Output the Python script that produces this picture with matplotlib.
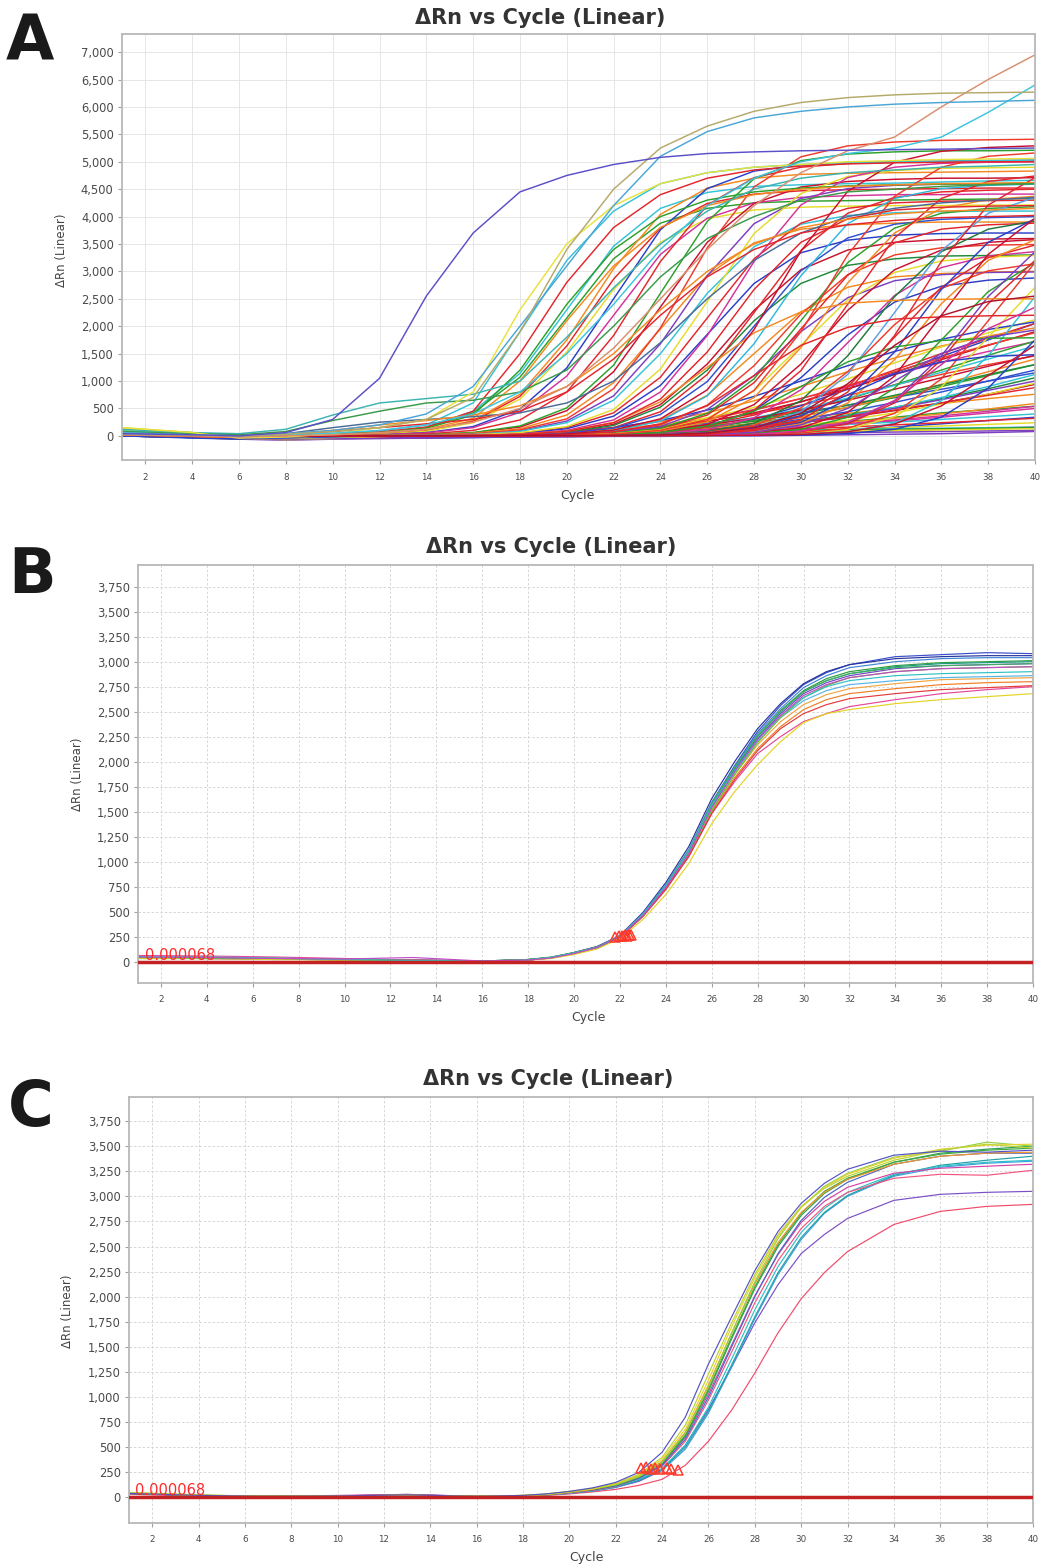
import matplotlib
matplotlib.use("Agg")
import matplotlib.pyplot as plt
from matplotlib import font_manager
from matplotlib.ticker import FuncFormatter

# ---------------------------------------------------------------- data
# Panel A: cycles at which each curve's ΔRn was read
cycles_A = [1, 4, 6, 8, 10, 12, 14, 16, 18, 20, 22, 24, 26, 28, 30, 32, 34, 36, 38, 40]

A_low = [
    ("#2b3fc6", [20, -20, -50, -60, -40, -30, -40, -30, -20, -10, 0, 10, 20, 40, 70, 110, 160, 220, 280, 340]),
    ("#e3262b", [40, 10, -20, -40, -30, -20, -20, -10, 0, 10, 20, 30, 40, 50, 60, 80, 100, 120, 140, 160]),
    ("#2ca02c", [60, 20, 0, -20, 0, 10, 20, 30, 40, 50, 60, 80, 110, 150, 200, 260, 340, 420, 480, 540]),
    ("#7b3fc0", [0, -30, -60, -80, -60, -50, -40, -30, -20, -20, -10, -10, 0, 0, 10, 20, 30, 40, 60, 80]),
    ("#e4dc2a", [150, 60, -40, -70, -50, -30, -20, 0, 10, 20, 30, 40, 60, 80, 100, 120, 150, 180, 210, 240]),
    ("#f4891f", [40, 0, -30, -40, -20, 0, 20, 40, 60, 80, 110, 150, 200, 260, 330, 410, 500, 590, 680, 760]),
    ("#d4319a", [80, 30, 0, -20, -10, 0, 10, 20, 30, 40, 50, 70, 90, 120, 160, 210, 270, 340, 420, 500]),
    ("#33c3d6", [100, 50, 20, 0, 10, 20, 30, 40, 50, 60, 70, 80, 90, 100, 110, 120, 130, 140, 150, 160]),
    ("#b0102a", [20, -20, -40, -50, -40, -30, -20, -10, 0, 10, 30, 60, 100, 160, 240, 340, 460, 600, 760, 940]),
    ("#3050d0", [30, 0, -20, -30, -20, -10, 0, 20, 40, 70, 110, 160, 230, 320, 430, 560, 700, 850, 1000, 1150]),
    ("#1f8a3a", [50, 10, -10, -20, -10, 0, 10, 20, 30, 40, 60, 90, 130, 190, 270, 380, 520, 680, 860, 1060]),
    ("#ef3b2c", [10, -10, -30, -40, -30, -20, -10, 0, 20, 50, 100, 170, 270, 400, 560, 740, 930, 1120, 1300, 1460]),
    ("#2ca02c", [60, 20, 0, -10, 0, 10, 20, 30, 40, 50, 60, 70, 80, 90, 100, 110, 120, 130, 140, 150]),
    ("#e3262b", [30, 0, -20, -30, -20, -10, 0, 10, 20, 30, 40, 60, 80, 100, 130, 160, 200, 240, 280, 320]),
    ("#7b3fc0", [10, -20, -40, -60, -50, -40, -30, -20, -10, 0, 10, 20, 30, 40, 50, 60, 70, 80, 90, 100]),
    ("#f4891f", [50, 10, -20, -30, -20, -10, 0, 10, 20, 30, 50, 70, 100, 140, 190, 250, 320, 400, 490, 590]),
    ("#33c3d6", [100, 40, 10, 0, 10, 20, 30, 40, 50, 60, 70, 90, 110, 140, 170, 210, 250, 300, 350, 400]),
    ("#e4dc2a", [140, 60, -30, -50, -30, -10, 0, 10, 20, 30, 40, 50, 60, 70, 80, 90, 100, 110, 120, 130]),
]

A_slow = [
    ("#2b3fc6", [30, 0, -20, -10, 0, 0, 0, 0, 5, 10, 15, 40, 120, 300, 550, 850, 1150, 1450, 1750, 2050]),
    ("#e3262b", [40, 10, -10, -10, 0, 0, 0, 5, 10, 20, 40, 90, 200, 380, 620, 900, 1200, 1500, 1780, 2050]),
    ("#2ca02c", [60, 20, 0, -10, 0, 0, 5, 10, 20, 30, 50, 80, 140, 230, 360, 520, 700, 900, 1100, 1300]),
    ("#f4891f", [20, -10, -30, -20, 0, 0, 0, 5, 10, 20, 40, 70, 130, 220, 350, 520, 720, 940, 1170, 1400]),
    ("#d4319a", [50, 20, 0, -10, 0, 5, 10, 20, 40, 70, 120, 200, 320, 480, 680, 900, 1120, 1340, 1540, 1720]),
    ("#33c3d6", [90, 40, 10, 0, 0, 0, 5, 10, 15, 25, 40, 60, 100, 160, 250, 370, 520, 700, 900, 1120]),
    ("#e4dc2a", [130, 50, -30, -20, 0, 0, 0, 5, 10, 15, 25, 40, 70, 120, 190, 290, 420, 580, 760, 960]),
    ("#c8102e", [30, 0, -20, -10, 0, 0, 5, 10, 20, 40, 80, 150, 260, 420, 620, 860, 1120, 1390, 1650, 1900]),
    ("#7b3fc0", [10, -20, -40, -30, -10, 0, 0, 5, 10, 20, 30, 50, 90, 150, 240, 360, 500, 660, 830, 1000]),
    ("#1f8a3a", [40, 10, -10, -10, 0, 0, 5, 10, 20, 35, 60, 100, 170, 270, 400, 560, 740, 930, 1120, 1300]),
    ("#ef3b2c", [20, -10, -30, -20, 0, 0, 5, 10, 25, 50, 100, 180, 300, 470, 680, 920, 1170, 1420, 1660, 1880]),
    ("#3050d0", [0, -30, -50, -40, -20, 0, 0, 5, 10, 20, 35, 60, 110, 190, 300, 440, 610, 800, 1000, 1200]),
    ("#f4891f", [60, 20, 0, -10, 0, 5, 10, 20, 40, 80, 150, 260, 420, 640, 900, 1170, 1420, 1640, 1820, 1970]),
    ("#e3262b", [30, 0, -20, -10, 0, 0, 5, 10, 20, 30, 50, 70, 110, 170, 250, 350, 470, 600, 740, 880]),
    ("#2ca02c", [50, 10, -10, -10, 0, 0, 5, 10, 20, 30, 50, 90, 160, 280, 450, 670, 930, 1200, 1470, 1730]),
    ("#e4dc2a", [110, 40, -30, -20, 0, 5, 10, 20, 40, 70, 120, 200, 330, 520, 760, 1040, 1330, 1620, 1880, 2120]),
    ("#d4319a", [40, 10, -10, -10, 0, 0, 5, 10, 20, 30, 45, 65, 90, 125, 170, 225, 290, 365, 450, 540]),
    ("#33c3d6", [80, 30, 10, 0, 0, 5, 10, 20, 30, 50, 80, 130, 210, 330, 490, 690, 920, 1160, 1400, 1640]),
    ("#c8102e", [20, -10, -30, -20, 0, 0, 5, 10, 20, 40, 70, 120, 200, 320, 470, 650, 850, 1060, 1270, 1470]),
    ("#2b3fc6", [30, 0, -20, -10, 0, 5, 10, 20, 40, 80, 150, 280, 470, 720, 1000, 1280, 1540, 1760, 1940, 2080]),
]

A_mass = [
    ("#33c3d6", [60, 20, 0, 10, 20, 60, 160, 450, 1140, 2300, 3460, 4150, 4440, 4550, 4580, 4600, 4610, 4630, 4650, 4660]),
    ("#2ca02c", [40, 0, -30, 5, 17, 52, 146, 420, 1070, 2150, 3230, 3880, 4150, 4250, 4280, 4290, 4300, 4310, 4320, 4330]),
    ("#f4891f", [80, 30, 10, 5, 11, 32, 96, 280, 760, 1750, 3050, 4040, 4520, 4700, 4770, 4790, 4800, 4810, 4820, 4830]),
    ("#e3262b", [20, -10, -40, 4, 10, 30, 90, 260, 720, 1640, 2860, 3790, 4240, 4410, 4470, 4490, 4500, 4510, 4520, 4520]),
    ("#e4dc2a", [130, 50, -50, 4, 9, 28, 84, 240, 670, 1530, 2670, 3530, 3960, 4120, 4170, 4190, 4200, 4200, 4210, 4210]),
    ("#2b3fc6", [30, 0, -20, 3, 6, 20, 60, 170, 490, 1240, 2500, 3760, 4510, 4830, 4940, 4980, 5000, 5010, 5020, 5030]),
    ("#d4319a", [50, 10, -10, 3, 6, 18, 53, 150, 430, 1090, 2200, 3310, 3970, 4250, 4350, 4380, 4400, 4400, 4410, 4410]),
    ("#e3262b", [40, 20, 0, 2, 5, 11, 34, 100, 290, 800, 1830, 3180, 4210, 4710, 4900, 4970, 4990, 5000, 5010, 5020]),
    ("#c8102e", [10, -20, -40, 1, 3, 6, 19, 56, 160, 460, 1170, 2350, 3530, 4240, 4540, 4640, 4680, 4700, 4700, 4710]),
    ("#2ca02c", [70, 30, 10, 1, 3, 7, 21, 62, 180, 510, 1290, 2600, 3910, 4690, 5020, 5140, 5180, 5200, 5200, 5210]),
    ("#f4891f", [0, -30, -60, 1, 2, 5, 16, 47, 130, 380, 970, 1950, 2930, 3520, 3770, 3850, 3880, 3900, 3900, 3900]),
    ("#7b3fc0", [60, 20, 0, 1, 2, 4, 10, 31, 92, 270, 730, 1680, 2920, 3870, 4330, 4510, 4570, 4590, 4600, 4600]),
    ("#ef3b2c", [30, 0, -20, 1, 2, 5, 12, 36, 110, 310, 860, 1970, 3430, 4540, 5090, 5290, 5360, 5390, 5400, 5410]),
    ("#33c3d6", [90, 40, 20, 1, 2, 4, 9, 27, 82, 240, 650, 1500, 2600, 3450, 3860, 4020, 4070, 4090, 4100, 4100]),
    ("#e3262b", [20, -10, -30, 0, 1, 3, 6, 17, 52, 150, 420, 1070, 2150, 3230, 3880, 4150, 4250, 4280, 4290, 4300]),
    ("#2b3fc6", [0, -20, -50, 0, 1, 2, 5, 15, 44, 130, 360, 920, 1850, 2780, 3340, 3570, 3660, 3690, 3700, 3700]),
    ("#e4dc2a", [110, 40, -30, 0, 1, 3, 6, 20, 59, 170, 480, 1220, 2450, 3690, 4420, 4730, 4840, 4880, 4890, 4900]),
    ("#c8102e", [40, 10, -10, 0, 1, 2, 4, 8, 24, 72, 210, 570, 1310, 2290, 3030, 3390, 3530, 3580, 3590, 3600]),
    ("#d4319a", [60, 30, 0, 0, 1, 2, 5, 11, 34, 100, 290, 800, 1830, 3180, 4210, 4710, 4900, 4970, 4990, 5000]),
    ("#1f8a3a", [20, -10, -40, 0, 1, 2, 3, 7, 22, 66, 190, 525, 1200, 2100, 2780, 3110, 3230, 3280, 3290, 3300]),
    ("#e3262b", [30, 0, -20, 0, 0, 1, 3, 6, 18, 54, 150, 440, 1120, 2250, 3380, 4060, 4350, 4450, 4480, 4500]),
    ("#f4891f", [50, 20, 10, 0, 0, 1, 2, 4, 12, 36, 100, 290, 740, 1500, 2260, 2710, 2900, 2960, 2990, 3000]),
    ("#3050d0", [0, -40, -60, 0, 0, 1, 3, 5, 16, 48, 140, 390, 990, 2000, 3010, 3610, 3860, 3950, 3980, 4000]),
    ("#ef3b2c", [40, 10, -10, 0, 0, 1, 2, 4, 8, 23, 70, 200, 560, 1280, 2220, 2940, 3300, 3430, 3480, 3490]),
    ("#2eb8e0", [80, 30, 10, 0, 0, 1, 3, 5, 10, 31, 92, 270, 730, 1680, 2920, 3870, 4330, 4510, 4570, 4590]),
    ("#7b3fc0", [10, -20, -40, 0, 0, 1, 2, 4, 7, 20, 60, 170, 480, 1100, 1900, 2520, 2830, 2940, 2980, 2990]),
    ("#e3262b", [20, -10, -30, 0, 0, 0, 1, 3, 5, 16, 47, 130, 380, 970, 1950, 2930, 3520, 3770, 3850, 3880]),
    ("#2ca02c", [60, 20, 0, 0, 0, 1, 2, 3, 6, 17, 50, 140, 410, 1040, 2100, 3160, 3790, 4060, 4150, 4180]),
    ("#e4dc2a", [120, 50, -40, -20, 0, 1, 2, 3, 4, 13, 40, 110, 320, 820, 1650, 2480, 2980, 3190, 3260, 3290]),
    ("#c8102e", [30, 0, -20, 0, 0, 0, 1, 2, 4, 8, 24, 72, 210, 570, 1310, 2290, 3030, 3390, 3530, 3580]),
    ("#f4891f", [70, 30, 10, 0, 0, 1, 2, 3, 5, 10, 29, 88, 255, 700, 1610, 2790, 3700, 4150, 4310, 4370]),
    ("#2b3fc6", [0, -30, -50, 0, 0, 0, 1, 2, 3, 6, 19, 58, 170, 460, 1060, 1840, 2440, 2730, 2840, 2880]),
    ("#e3262b", [40, 10, -10, 0, 0, 0, 1, 2, 4, 6, 19, 58, 160, 470, 1190, 2400, 3610, 4330, 4640, 4740]),
    ("#d4319a", [50, 20, 0, 0, 0, 0, 1, 2, 3, 5, 14, 41, 120, 330, 840, 1700, 2560, 3070, 3280, 3360]),
    ("#1f7a3a", [20, -10, -30, 0, 0, 0, 1, 2, 3, 5, 9, 27, 80, 230, 640, 1460, 2540, 3360, 3770, 3920]),
    ("#ef3b2c", [30, 0, -20, 0, 0, 0, 1, 2, 3, 4, 7, 21, 64, 190, 510, 1170, 2030, 2690, 3010, 3140]),
    ("#5aa0e6", [70, 30, 10, 0, 0, 0, 1, 2, 3, 4, 8, 18, 54, 150, 440, 1120, 2250, 3380, 4060, 4350]),
    ("#e3262b", [20, -10, -30, 0, 0, 0, 0, 1, 2, 3, 6, 14, 43, 120, 350, 890, 1800, 2710, 3250, 3480]),
    ("#2b3fc6", [0, -20, -40, 0, 0, 0, 0, 1, 2, 3, 5, 9, 28, 84, 240, 670, 1530, 2670, 3530, 3960]),
    ("#f4891f", [60, 20, 0, 0, 0, 0, 0, 1, 2, 3, 4, 8, 25, 76, 220, 600, 1390, 2410, 3200, 3580]),
    ("#c8102e", [30, 0, -10, 0, 0, 0, 0, 1, 2, 3, 4, 8, 18, 53, 150, 430, 1090, 2200, 3310, 3970]),
    ("#2ca02c", [50, 10, -10, 0, 0, 0, 0, 1, 2, 3, 4, 7, 14, 42, 120, 340, 870, 1750, 2630, 3160]),
    ("#7b3fc0", [10, -20, -40, 0, 0, 0, 0, 1, 2, 3, 4, 6, 9, 27, 80, 230, 640, 1460, 2540, 3360]),
    ("#e3262b", [40, 10, -20, 0, 0, 0, 0, 1, 2, 3, 4, 6, 9, 25, 76, 220, 600, 1390, 2410, 3200]),
    ("#e4dc2a", [100, 40, -30, -10, 0, 0, 0, 1, 2, 3, 4, 6, 8, 14, 43, 120, 350, 890, 1800, 2710]),
    ("#ef3b2c", [20, -10, -30, 0, 0, 0, 0, 1, 2, 3, 4, 6, 8, 17, 50, 140, 410, 1040, 2100, 3160]),
    ("#33c3d6", [80, 30, 10, 0, 0, 0, 0, 1, 2, 3, 4, 6, 8, 9, 27, 80, 230, 640, 1460, 2540]),
    ("#2b3fc6", [0, -30, -50, -20, 0, 0, 0, 1, 2, 3, 4, 6, 8, 10, 14, 42, 120, 340, 870, 1750]),
    ("#e3262b", [30, 0, -20, 0, 0, 1, 2, 3, 9, 26, 75, 220, 550, 1100, 1650, 1980, 2130, 2170, 2190, 2200]),
    ("#2ca02c", [40, 10, -10, 0, 0, 0, 1, 2, 3, 7, 22, 61, 180, 450, 900, 1350, 1620, 1740, 1780, 1790]),
    ("#2b3fc6", [10, -20, -40, 0, 0, 0, 1, 2, 3, 4, 6, 18, 51, 150, 370, 750, 1130, 1350, 1450, 1480]),
    ("#f4891f", [60, 20, 0, 0, 1, 2, 4, 10, 30, 85, 245, 620, 1250, 1880, 2260, 2420, 2470, 2490, 2500, 2500]),
    ("#7b3fc0", [20, -10, -30, 0, 0, 0, 0, 1, 2, 3, 5, 8, 24, 68, 200, 500, 1000, 1500, 1800, 1930]),
    ("#d4319a", [50, 20, 0, 0, 0, 0, 0, 1, 2, 3, 4, 6, 11, 31, 88, 255, 645, 1300, 1955, 2345]),
    ("#c8102e", [30, 0, -20, 0, 0, 0, 0, 1, 2, 3, 4, 6, 8, 10, 26, 75, 216, 546, 1100, 1654]),
    ("#e3262b", [30, 0, -20, 0, 1, 2, 4, 9, 28, 84, 240, 670, 1530, 2670, 3530, 3960, 4120, 4170, 4190, 4200]),
    ("#ef3b2c", [50, 20, 0, 0, 0, 1, 2, 4, 6, 11, 35, 100, 300, 830, 1900, 3300, 4370, 4900, 5100, 5160]),
    ("#e3262b", [20, -10, -30, 0, 0, 0, 1, 2, 3, 5, 7, 11, 34, 100, 290, 800, 1830, 3180, 4210, 4710]),
    ("#c8102e", [40, 10, -10, 0, 0, 1, 2, 5, 12, 36, 106, 310, 840, 1940, 3370, 4460, 4990, 5190, 5260, 5290]),
    ("#b0102a", [30, 0, -20, 0, 0, 0, 1, 2, 3, 4, 7, 17, 52, 150, 410, 950, 1650, 2190, 2450, 2550]),
]

A_early = [
    ("#36c0d8", [90, 40, 10, 20, 40, 90, 200, 600, 1900, 3200, 4100, 4600, 4800, 4900, 4950, 4980, 5000, 5010, 5020, 5030]),
    ("#e3262b", [30, 0, -20, 10, 30, 70, 160, 450, 1500, 2800, 3800, 4400, 4700, 4850, 4920, 4960, 4980, 4990, 5000, 5000]),
    ("#2ca02c", [50, 10, -10, 10, 30, 60, 140, 380, 1200, 2400, 3400, 4000, 4300, 4450, 4520, 4560, 4580, 4590, 4600, 4600]),
    ("#f4891f", [20, -10, -30, 10, 20, 50, 120, 320, 1000, 2100, 3100, 3800, 4200, 4400, 4500, 4550, 4580, 4600, 4610, 4620]),
    ("#4a6a9a", [60, 20, 0, 40, 150, 250, 300, 350, 420, 600, 1000, 1700, 2500, 3200, 3700, 4000, 4150, 4250, 4300, 4350]),
    ("#f4891f", [50, 10, -10, 30, 100, 200, 280, 380, 550, 900, 1500, 2300, 3000, 3500, 3800, 3950, 4050, 4100, 4120, 4150]),
    ("#e3262b", [30, 0, -20, 20, 80, 150, 220, 300, 450, 800, 1400, 2200, 2900, 3400, 3700, 3850, 3930, 3980, 4000, 4020]),
]

A_special = [
    ("#3cb4b0", [120, 60, 40, 120, 380, 600, 680, 760, 1000, 1800, 2700, 3500, 4100, 4500, 4700, 4800, 4850, 4900, 4920, 4950]),
    ("#3a9a4a", [80, 40, 20, 80, 280, 450, 600, 650, 800, 1200, 2000, 2900, 3600, 4000, 4300, 4450, 4500, 4550, 4580, 4600]),
    ("#e8e23c", [150, 60, -40, -20, 40, 150, 300, 800, 2300, 3500, 4200, 4600, 4800, 4900, 4950, 5000, 5020, 5040, 5050, 5060]),
    ("#3cc4e0", [50, 10, 0, 20, 50, 100, 200, 400, 800, 1500, 2400, 3400, 4200, 4700, 5000, 5150, 5250, 5450, 5900, 6400]),
    ("#d98e6e", [20, 0, -20, 0, 20, 60, 120, 250, 500, 900, 1600, 2500, 3400, 4200, 4800, 5200, 5450, 6000, 6500, 6950]),
    ("#4aa6d6", [60, 20, 0, 40, 100, 200, 400, 900, 2000, 3100, 4200, 5100, 5550, 5800, 5920, 6000, 6050, 6080, 6100, 6120]),
    ("#b5a96a", [30, 10, 0, 30, 80, 150, 300, 700, 1900, 3400, 4500, 5250, 5650, 5920, 6080, 6170, 6220, 6250, 6260, 6270]),
    ("#5b4fc9", [40, 20, 0, 60, 300, 1050, 2550, 3700, 4450, 4750, 4950, 5080, 5150, 5180, 5200, 5210, 5220, 5230, 5240, 5250]),
]

yticks_A = list(range(0, 7001, 500))

# Panels B and C: cycles at which each curve's ΔRn was read
cycles_BC = [1, 4, 7, 10, 13, 16, 18, 19, 20, 21, 22, 23, 24, 25, 26, 27, 28, 29, 30, 31, 32, 34, 36, 38, 40]

B_curves = [
    ("#3a4fc8", [40, 35, 25, 15, 10, 5, 20, 40, 85, 140, 250, 470, 760, 1110, 1590, 1960, 2300, 2560, 2770, 2890, 2970, 3050, 3070, 3090, 3080]),
    ("#27349e", [50, 40, 30, 20, 15, 5, 15, 40, 90, 150, 260, 490, 790, 1150, 1630, 2000, 2330, 2580, 2780, 2900, 2970, 3030, 3050, 3060, 3060]),
    ("#2f9e3a", [30, 30, 25, 15, 5, 0, 20, 45, 90, 145, 250, 470, 750, 1100, 1570, 1930, 2260, 2510, 2710, 2830, 2900, 2960, 2990, 3000, 3010]),
    ("#1f9a84", [45, 40, 30, 20, 10, 5, 15, 35, 80, 135, 240, 460, 740, 1090, 1560, 1920, 2250, 2500, 2700, 2810, 2880, 2950, 2980, 2990, 3000]),
    ("#6f45c2", [35, 30, 20, 25, 15, 5, 15, 40, 85, 140, 245, 465, 745, 1090, 1550, 1910, 2230, 2480, 2680, 2790, 2860, 2930, 2960, 2970, 2980]),
    ("#3f86d4", [40, 35, 30, 20, 10, 5, 20, 40, 85, 145, 255, 480, 770, 1120, 1590, 1950, 2280, 2530, 2740, 2860, 2940, 3000, 3030, 3040, 3040]),
    ("#f07f22", [50, 45, 35, 20, 10, 5, 15, 35, 80, 140, 245, 455, 730, 1060, 1500, 1840, 2130, 2350, 2520, 2620, 2680, 2730, 2770, 2790, 2800]),
    ("#f2a542", [35, 30, 25, 15, 10, 0, 15, 35, 80, 140, 250, 465, 740, 1080, 1520, 1870, 2170, 2400, 2570, 2670, 2730, 2780, 2820, 2830, 2840]),
    ("#55b4e6", [45, 40, 30, 20, 10, 5, 15, 40, 85, 140, 245, 470, 750, 1090, 1540, 1890, 2200, 2440, 2610, 2710, 2770, 2810, 2840, 2850, 2860]),
    ("#66c23c", [40, 40, 30, 20, 15, 5, 20, 40, 80, 135, 240, 450, 720, 1060, 1510, 1870, 2190, 2440, 2640, 2760, 2840, 2900, 2930, 2940, 2950]),
    ("#e4479a", [60, 55, 45, 30, 15, 5, 15, 35, 80, 135, 240, 450, 720, 1050, 1480, 1800, 2080, 2250, 2400, 2480, 2550, 2620, 2680, 2720, 2750]),
    ("#e23b3b", [45, 40, 30, 20, 10, 5, 15, 35, 80, 140, 245, 455, 725, 1050, 1480, 1820, 2110, 2330, 2480, 2570, 2630, 2680, 2720, 2740, 2760]),
    ("#e3d323", [30, 30, 20, 15, 5, 0, 15, 30, 70, 125, 230, 420, 670, 980, 1380, 1700, 1970, 2200, 2390, 2480, 2520, 2580, 2620, 2650, 2680]),
    ("#3fb063", [40, 35, 30, 20, 10, 5, 20, 40, 85, 145, 250, 470, 760, 1110, 1580, 1940, 2260, 2500, 2700, 2810, 2880, 2940, 2960, 2970, 2980]),
    ("#2fc2c4", [50, 45, 35, 20, 10, 5, 15, 40, 85, 140, 250, 470, 755, 1100, 1560, 1910, 2220, 2460, 2640, 2750, 2810, 2860, 2880, 2890, 2900]),
    ("#c24ac4", [45, 40, 30, 25, 40, 5, 15, 35, 80, 140, 245, 460, 740, 1080, 1540, 1900, 2220, 2460, 2660, 2770, 2840, 2900, 2930, 2940, 2950]),
]
B_ct_cycles = [21.8, 21.95, 22.1, 22.2, 22.3, 22.4, 22.5]
B_ct_drn = [250, 260, 255, 265, 260, 270, 262]

C_curves = [
    ("#f04a6a", [30, 15, 5, 10, 20, 5, 10, 20, 35, 55, 80, 120, 180, 320, 560, 870, 1240, 1640, 1980, 2240, 2450, 2720, 2850, 2900, 2920]),
    ("#7b4fc6", [35, 20, 10, 15, 30, 10, 15, 25, 40, 65, 100, 160, 270, 520, 880, 1300, 1740, 2120, 2430, 2620, 2780, 2960, 3020, 3040, 3050]),
    ("#3f9fe2", [40, 20, 10, 15, 20, 10, 15, 25, 40, 65, 100, 170, 270, 480, 840, 1300, 1780, 2220, 2570, 2830, 3000, 3200, 3290, 3330, 3350]),
    ("#1f9fa5", [40, 20, 10, 15, 20, 10, 15, 25, 45, 65, 105, 170, 280, 500, 860, 1320, 1800, 2240, 2590, 2840, 3010, 3210, 3310, 3360, 3400]),
    ("#2ec0c8", [40, 20, 10, 15, 20, 10, 15, 25, 45, 70, 110, 180, 290, 520, 900, 1380, 1870, 2300, 2640, 2880, 3040, 3220, 3300, 3340, 3360]),
    ("#f2557f", [35, 20, 10, 15, 25, 10, 15, 25, 45, 70, 110, 190, 310, 560, 970, 1450, 1940, 2360, 2680, 2900, 3040, 3180, 3220, 3210, 3260]),
    ("#d444a4", [40, 20, 10, 20, 30, 10, 15, 30, 50, 75, 120, 200, 330, 600, 1030, 1520, 2010, 2420, 2740, 2950, 3090, 3230, 3280, 3300, 3320]),
    ("#4a66c6", [40, 20, 10, 15, 25, 10, 15, 30, 50, 75, 115, 190, 320, 580, 1000, 1500, 2000, 2430, 2760, 2990, 3140, 3320, 3400, 3430, 3430]),
    ("#2f9f55", [40, 20, 10, 15, 20, 10, 15, 30, 50, 80, 120, 200, 340, 610, 1060, 1580, 2080, 2500, 2810, 3030, 3170, 3340, 3430, 3470, 3500]),
    ("#3caa3c", [40, 20, 10, 15, 20, 10, 15, 30, 50, 80, 130, 210, 350, 620, 1080, 1600, 2100, 2520, 2830, 3050, 3180, 3340, 3420, 3460, 3480]),
    ("#f29428", [45, 20, 10, 15, 25, 10, 15, 30, 50, 80, 130, 210, 360, 650, 1120, 1640, 2130, 2540, 2840, 3040, 3170, 3320, 3400, 3430, 3440]),
    ("#92d046", [45, 25, 10, 15, 20, 10, 20, 30, 55, 85, 125, 205, 350, 640, 1100, 1640, 2150, 2580, 2890, 3100, 3230, 3390, 3450, 3540, 3500]),
    ("#e4d232", [45, 20, 10, 15, 20, 10, 20, 30, 55, 85, 135, 220, 380, 680, 1170, 1700, 2190, 2600, 2890, 3090, 3220, 3380, 3470, 3510, 3520]),
    ("#bcd234", [50, 25, 10, 15, 20, 10, 20, 35, 60, 90, 140, 230, 400, 720, 1230, 1740, 2220, 2620, 2900, 3080, 3200, 3360, 3460, 3520, 3480]),
    ("#5352c4", [40, 20, 10, 15, 25, 10, 20, 35, 60, 95, 150, 250, 450, 800, 1330, 1800, 2260, 2650, 2930, 3130, 3270, 3410, 3450, 3440, 3460]),
]
C_ct_cycles = [23.1, 23.3, 23.5, 23.7, 23.9, 24.2, 24.4, 24.7]
C_ct_drn = [290, 300, 285, 295, 280, 290, 285, 275]

yticks_BC = list(range(0, 3751, 250))
threshold = 0.000068
title_text = "ΔRn vs Cycle (Linear)"

# ---------------------------------------------------------------- figure
W, H = 1041, 1565
plt.rcParams["font.family"] = ["DejaVu Sans"]
fig = plt.figure(figsize=(W / 100, H / 100), dpi=100)

installed = {f.name for f in font_manager.fontManager.ttflist}
if "Liberation Sans Narrow" in installed:
    thr_family, thr_size = ["Liberation Sans Narrow", "DejaVu Sans"], 12.5
else:
    thr_family, thr_size = ["DejaVu Sans"], 10.5


def fr(left, top, right, bottom):
    return [left / W, 1 - bottom / H, (right - left) / W, (bottom - top) / H]


def style(ax, ylim, yticks, dashed):
    ax.set_xlim(1, 40)
    ax.set_ylim(*ylim)
    ax.set_xticks(range(2, 41, 2))
    ax.set_yticks(yticks)
    ax.yaxis.set_major_formatter(FuncFormatter(lambda v, p: f"{int(round(v)):,}"))
    if dashed:
        ax.grid(True, color="#d6d6d6", lw=0.7, ls=(0, (2.5, 2)))
    else:
        ax.grid(True, color="#e6e6e6", lw=0.7, ls="-")
    ax.set_axisbelow(True)
    for s in ax.spines.values():
        s.set_color("#b8b8b8")
        s.set_linewidth(1.3)
    ax.tick_params(axis="both", colors="#a0a0a0", length=3, width=0.8,
                   labelcolor="#4a4a4a")
    ax.tick_params(axis="y", labelsize=8.3, pad=3)
    ax.tick_params(axis="x", labelsize=6.3, pad=6)


def draw(ax, cycles, groups, lw):
    for group in groups:
        for color, vals in group:
            n = min(len(cycles), len(vals))
            ax.plot(cycles[:n], vals[:n], color=color, lw=lw,
                    solid_joinstyle="round", solid_capstyle="round")


# Panel A
axA = fig.add_axes(fr(122, 34, 1035, 460))
style(axA, (-440, 7330), yticks_A, dashed=False)
draw(axA, cycles_A, [A_low, A_slow, A_mass, A_early, A_special], 1.05)

# Panel B
axB = fig.add_axes(fr(138, 565, 1033, 983))
style(axB, (-215, 3967), yticks_BC, dashed=True)
draw(axB, cycles_BC, [B_curves], 0.85)
axB.axhline(threshold, color="#c42222", lw=2.5, zorder=5)
axB.plot(B_ct_cycles, B_ct_drn, ls="none", marker="^", ms=6.5, mfc="none",
         mec="#ff3a2a", mew=1.1, zorder=6)
axB.text(1.3, threshold - 10, f"{threshold:.6f}", color="#ff2a2a", fontsize=thr_size,
         family=thr_family, va="bottom", ha="left", zorder=7)

# Panel C
axC = fig.add_axes(fr(129, 1097, 1033, 1523))
style(axC, (-255, 3990), yticks_BC, dashed=True)
draw(axC, cycles_BC, [C_curves], 0.85)
axC.axhline(threshold, color="#c42222", lw=2.5, zorder=5)
axC.plot(C_ct_cycles, C_ct_drn, ls="none", marker="^", ms=6.5, mfc="none",
         mec="#ff3a2a", mew=1.1, zorder=6)
axC.text(1.25, threshold - 10, f"{threshold:.6f}", color="#ff2a2a", fontsize=thr_size,
         family=thr_family, va="bottom", ha="left", zorder=7)

# titles, letters, axis labels
for x, ybase in [(540, 24), (551, 553), (548, 1085)]:
    fig.text(x / W, 1 - ybase / H, title_text, ha="center", va="baseline",
             fontsize=15, fontweight="bold", color="#333333")
for letter, x, ybase in [("A", 30, 60), ("B", 32, 593), ("C", 31, 1126)]:
    fig.text(x / W, 1 - ybase / H, letter, ha="center", va="baseline",
             fontsize=45, fontweight="bold", color="#1a1a1a")
for x, yc in [(62, 250), (78, 774), (68, 1311)]:
    fig.text(x / W, 1 - yc / H, "ΔRn (Linear)", rotation=90, ha="center",
             va="center", fontsize=8.5, color="#444444")
for x, yc in [(577, 495), (588, 1018), (586, 1557)]:
    fig.text(x / W, 1 - yc / H, "Cycle", ha="center", va="center",
             fontsize=9, color="#444444")

fig.savefig("out.png", dpi=100, facecolor="white")
